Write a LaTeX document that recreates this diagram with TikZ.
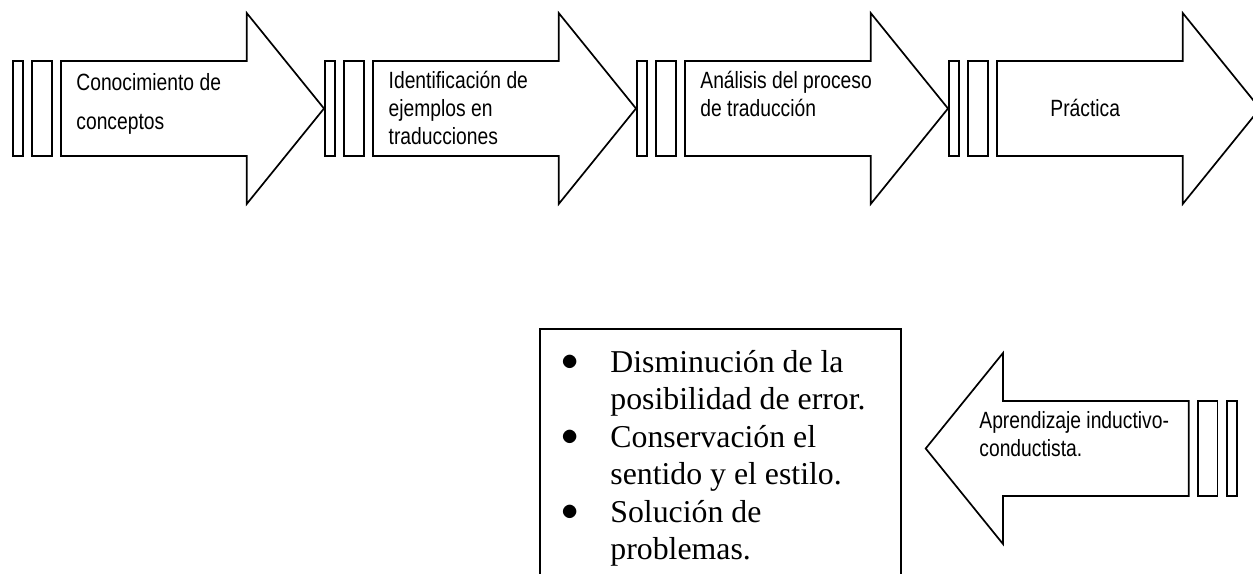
\documentclass[tikz,border=0pt]{standalone}
\usepackage{fontspec}
\setmainfont{Liberation Serif}
\newfontfamily\estrecha{Liberation Sans}[FakeStretch=0.82]
\usepackage{tikz}
\newcommand{\vineta}{\makebox[29.3pt]{\raisebox{1pt}{$\bullet$}}}
\tikzset{
    linea/.style={
           line width=0.85pt,
           line join=miter
           },
    texto/.style={
           anchor=base west,
           inner sep=0pt,
           font=\estrecha\fontsize{11.75}{14}\selectfont
           },
    lista/.style={
           anchor=base west,
           inner sep=0pt,
           font=\fontsize{15.9}{18.75}\selectfont
           },
    caja/.style={
           line width=1pt
           },
    % two bars and the block arrow, drawn from the left bar
    flecha/.pic={
           \draw[linea] (0,-47.5) rectangle (10,47.5);
           \draw[linea] (19.6,-47.5) rectangle (39,47.5);
           \draw[linea] (48.3,-47.5) -- (234,-47.5) -- (234,-95.5) -- (311.3,0)
                -- (234,95.5) -- (234,47.5) -- (48.3,47.5) -- cycle;
           },
}

\begin{document}
\begin{tikzpicture}[x=0.5pt,y=-0.5pt]
    \useasboundingbox (0,0) rectangle (1253,573);
    \clip (0,0) rectangle (1253,573);

    % upper row of arrows
    \pic at (12.7,108.5) {flecha};
    \pic at (324.7,108.5) {flecha};
    \pic at (636.7,108.5) {flecha};
    \pic at (948.7,108.5) {flecha};

    \node[texto] (conceptos) at (76,90)
        {\begin{tabular}[t]{@{}l@{}}
            Conocimiento de\\[6pt]
            conceptos
         \end{tabular}};
    \node[texto] (ejemplos) at (388.3,88.3)
        {\begin{tabular}[t]{@{}l@{}}
            Identificación de\\
            ejemplos en\\
            traducciones
         \end{tabular}};
    \node[texto] (proceso) at (700,88.3)
        {\begin{tabular}[t]{@{}l@{}}
            Análisis del proceso\\
            de traducción
         \end{tabular}};
    \node[texto] (practica) at (1050,116) {Práctica};

    % lower arrow, pointing back
    \pic[xscale=-1] at (1237,448.5) {flecha};
    \node[texto] (aprendizaje) at (979,428.3)
        {\begin{tabular}[t]{@{}l@{}}
            Aprendizaje inductivo-\\
            conductista.
         \end{tabular}};

    % box with the outcomes
    \draw[caja] (540,329) rectangle (900.7,600);
    \node[lista] (ventajas) at (540,372)
        {\begin{tabular}[t]{@{}l@{\hspace{5.7pt}}l@{}}
            \vineta & Disminución de la\\
                    & posibilidad de error.\\
            \vineta & Conservación el\\
                    & sentido y el estilo.\\
            \vineta & Solución de\\
                    & problemas.
         \end{tabular}};
\end{tikzpicture}
\end{document}
